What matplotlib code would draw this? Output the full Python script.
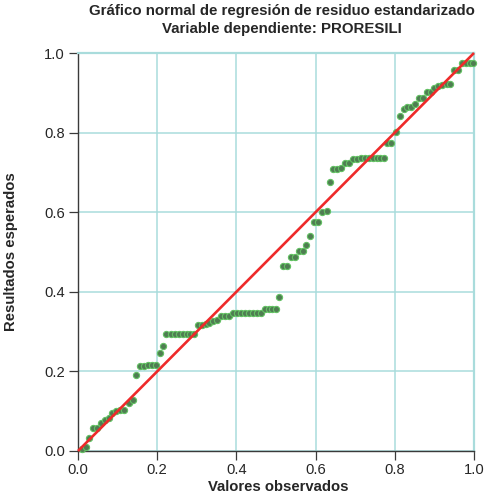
import matplotlib
matplotlib.use("Agg")
import matplotlib.pyplot as plt

plt.rcParams['font.family'] = ['Liberation Sans', 'DejaVu Sans']

title_lines = ["Gráfico normal de regresión de residuo estandarizado",
               "Variable dependiente: PRORESILI"]
x_label = "Valores observados"
y_label = "Resultados esperados"
tick_values = [0.0, 0.2, 0.4, 0.6, 0.8, 1.0]
tick_labels = ["0.0", "0.2", "0.4", "0.6", "0.8", "1.0"]

observed = [0.010, 0.020, 0.028, 0.038, 0.048, 0.058, 0.068, 0.078, 0.087, 0.097,
            0.107, 0.117, 0.128, 0.138, 0.146, 0.157, 0.167, 0.177, 0.187, 0.196,
            0.206, 0.215, 0.223, 0.234, 0.244, 0.254, 0.264, 0.274, 0.284, 0.292,
            0.302, 0.312, 0.322, 0.332, 0.342, 0.351, 0.361, 0.371, 0.381, 0.391,
            0.402, 0.412, 0.422, 0.432, 0.442, 0.452, 0.462, 0.472, 0.482, 0.491,
            0.500, 0.508, 0.518, 0.528, 0.538, 0.548, 0.557, 0.567, 0.577, 0.587,
            0.597, 0.607, 0.617, 0.628, 0.636, 0.644, 0.654, 0.664, 0.674, 0.684,
            0.694, 0.705, 0.715, 0.725, 0.735, 0.745, 0.755, 0.763, 0.773, 0.780,
            0.790, 0.802, 0.812, 0.822, 0.832, 0.842, 0.851, 0.861, 0.871, 0.881,
            0.891, 0.900, 0.910, 0.920, 0.931, 0.939, 0.949, 0.960, 0.970, 0.980,
            0.990, 0.997]

expected = [0.004, 0.009, 0.033, 0.058, 0.058, 0.070, 0.078, 0.083, 0.096, 0.101,
            0.102, 0.102, 0.121, 0.127, 0.192, 0.214, 0.214, 0.215, 0.216, 0.216,
            0.246, 0.263, 0.293, 0.293, 0.293, 0.293, 0.293, 0.293, 0.293, 0.293,
            0.317, 0.317, 0.319, 0.322, 0.327, 0.330, 0.340, 0.340, 0.340, 0.346,
            0.346, 0.346, 0.346, 0.346, 0.346, 0.346, 0.346, 0.357, 0.357, 0.357,
            0.357, 0.387, 0.465, 0.465, 0.488, 0.488, 0.503, 0.503, 0.517, 0.540,
            0.576, 0.576, 0.601, 0.604, 0.677, 0.708, 0.708, 0.711, 0.723, 0.723,
            0.733, 0.733, 0.735, 0.735, 0.735, 0.735, 0.735, 0.735, 0.735, 0.774,
            0.774, 0.802, 0.842, 0.859, 0.864, 0.864, 0.871, 0.886, 0.886, 0.903,
            0.903, 0.911, 0.918, 0.920, 0.923, 0.923, 0.957, 0.957, 0.974, 0.974,
            0.974, 0.974]

ref_line = [0.0, 1.0]

W, H = 491, 496
fig = plt.figure(figsize=(W / 100, H / 100), dpi=100)
ax = fig.add_axes([78 / W, 1 - 451 / H, 396 / W, 398 / H])

grid_color = "#a9dcdc"
axis_color = "#3a3a3a"
text_color = "#262626"

ax.set_xlim(0, 1)
ax.set_ylim(0, 1)
ax.set_xticks(tick_values)
ax.set_yticks(tick_values)
ax.set_xticklabels(tick_labels)
ax.set_yticklabels(tick_labels)
ax.grid(True, color=grid_color, linewidth=1.1, zorder=0)
ax.set_axisbelow(True)

for side in ("top", "right"):
    ax.spines[side].set_color(grid_color)
    ax.spines[side].set_linewidth(1.6)
for side in ("left", "bottom"):
    ax.spines[side].set_color(axis_color)
    ax.spines[side].set_linewidth(1.0)

ax.tick_params(axis="both", direction="out", length=6.5, width=0.9, color=axis_color,
               labelsize=10.6, labelcolor=text_color)
ax.tick_params(axis="x", pad=2)
ax.tick_params(axis="y", pad=3)

ax.scatter(observed, expected, s=20, facecolor="#4f7d52", edgecolor="#63c163",
           linewidths=0.8, zorder=3, clip_on=False)
ax.plot(ref_line, ref_line, color="#ee2a2a", linewidth=1.9, zorder=4,
        solid_capstyle="butt", clip_on=False)

fig.text(282 / W, 1 - 15 / H, title_lines[0], ha="center", va="baseline",
         fontsize=10.8, fontweight="bold", color=text_color)
fig.text(282 / W, 1 - 32.5 / H, title_lines[1], ha="center", va="baseline",
         fontsize=10.8, fontweight="bold", color=text_color)
fig.text(278 / W, 1 - 491 / H, x_label, ha="center", va="baseline",
         fontsize=10.7, fontweight="bold", color=text_color)
fig.text(11 / W, 1 - 252 / H, y_label, ha="center", va="center", rotation=90,
         fontsize=10.7, fontweight="bold", color=text_color)

fig.savefig("out.png", dpi=100)
